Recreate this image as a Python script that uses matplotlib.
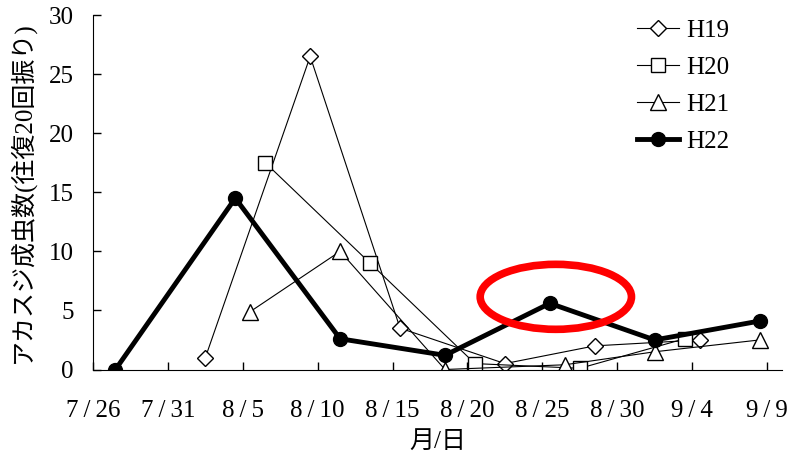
import numpy as np
import pandas as pd
import matplotlib
matplotlib.use("Agg")
import matplotlib.pyplot as plt
from matplotlib.patches import Ellipse

plt.rcParams['font.family'] = ['Liberation Serif', 'Noto Sans CJK JP']

# 調査日 (月/日) と成虫数
h19_dates = ['8/2', '8/9', '8/15', '8/22', '8/28', '9/4']
h19_vals = [1.0, 26.5, 3.5, 0.5, 2.0, 2.5]
h20_dates = ['8/6', '8/13', '8/20', '8/27', '9/3']
h20_vals = [17.5, 9.0, 0.5, 0.1, 2.6]
h21_dates = ['8/5', '8/11', '8/18', '8/26', '9/1', '9/8']
h21_vals = [4.9, 10.0, 0.0, 0.4, 1.5, 2.5]
h22_dates = ['7/27', '8/4', '8/11', '8/18', '8/25', '9/1', '9/8']
h22_vals = [0.0, 14.5, 2.6, 1.2, 5.6, 2.5, 4.1]

tick_labels = ['7/26', '7/31', '8/5', '8/10', '8/15', '8/20', '8/25', '8/30', '9/4', '9/9']

base = pd.Timestamp('2010-07-26')


def to_day(dates):
    # 7/26 からの日数 (昼の時刻に置く)
    d = pd.to_datetime(['2010/' + s for s in dates], format='%Y/%m/%d')
    return np.array((d - base).days, dtype=float) + 0.5


fig = plt.figure(figsize=(7.95, 4.59), dpi=100)
ax = fig.add_axes([93 / 795, (459 - 369.5) / 459, 689 / 795, 354.5 / 459])

thin = dict(color='black', linewidth=0.8, markerfacecolor='white',
            markeredgecolor='black', markeredgewidth=1.0)
ax.plot(to_day(h19_dates), h19_vals, marker='D', markersize=8.5, label='H19', **thin)
ax.plot(to_day(h20_dates), h20_vals, marker='s', markersize=10, label='H20', **thin)
ax.plot(to_day(h21_dates), h21_vals, marker='^', markersize=11, label='H21', **thin)
ax.plot(to_day(h22_dates), h22_vals, color='black', linewidth=3.5, marker='o',
        markersize=10, label='H22', zorder=5)

# 強調の赤い楕円
ax.add_patch(Ellipse((30.9, 6.15), 10.1, 5.5, fill=False, edgecolor='#ff0000',
                     linewidth=5.5, zorder=6, clip_on=False))

ticks = [(pd.Timestamp('2010/' + s) - base).days for s in tick_labels]
ax.set_xticks(ticks)
ax.set_xticklabels([t.replace('/', '\u2009/\u2009') for t in tick_labels])
ax.set_xlim(0, 46)
ax.set_ylim(0, 30)
ax.set_yticks(range(0, 31, 5))

for s in ['top', 'right']:
    ax.spines[s].set_visible(False)
ax.tick_params(axis='both', direction='in', length=6, width=1, labelsize=18)
ax.tick_params(axis='x', pad=22)
ax.tick_params(axis='y', pad=14)

ax.set_xlabel('月/日', fontsize=18, labelpad=6)
ax.set_ylabel('アカスジ成虫数(往復20回振り)', fontsize=18, labelpad=10)

ax.legend(loc='upper left', bbox_to_anchor=(624 / 795, 1 - 7 / 459),
          bbox_transform=fig.transFigure, frameon=False, fontsize=18,
          handlelength=1.7, handletextpad=0.3, labelspacing=0.58, borderpad=0)

fig.savefig('out.png', dpi=100)
